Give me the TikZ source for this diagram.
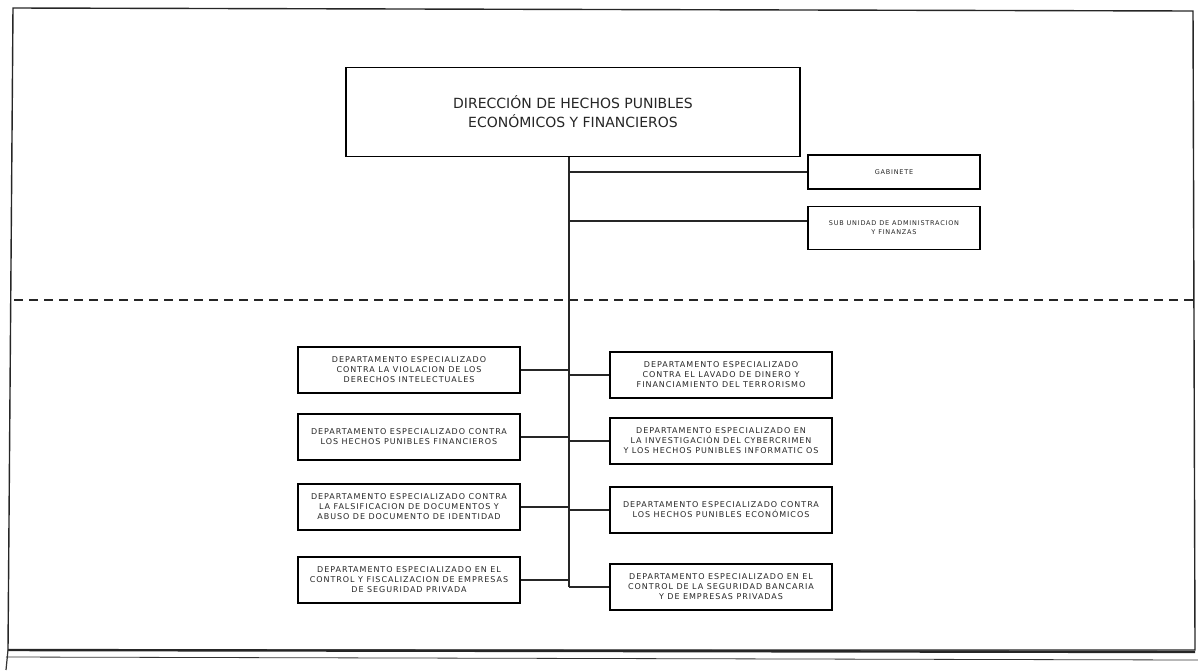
\documentclass[tikz,border=0pt]{standalone}
\usepackage{fontspec}
\setmainfont{DejaVu Sans}
\newfontfamily\deptfam[LetterSpace=12]{DejaVu Sans}
\usetikzlibrary{positioning}

\tikzset{
  dept/.style={draw, line width=1.3pt, fill=white, align=center, inner sep=2pt,
    minimum width=222pt, minimum height=46pt, text=black!85,
    font=\deptfam\fontsize{8}{10}\selectfont},
  staff/.style={dept, minimum width=172pt, minimum height=36pt,
    font=\deptfam\fontsize{6.5}{9}\selectfont},
  link/.style={line width=1.2pt, black!85},
}

\begin{document}
\begin{tikzpicture}[x=1pt,y=-1pt]
\useasboundingbox (0,0) rectangle (1198,670);

% Page frame
\draw[line width=1.4pt, black!85] (13,8) -- (1193,11) -- (1195,650) -- (8,650) -- cycle;
\draw[line width=2.4pt, black!85] (8,650) -- (1195,652);
\draw[line width=0.8pt, black!80] (6,657) -- (1198,660);
\draw[line width=1.2pt, black!80] (8,650) -- (6,670);

% Separator
\draw[line width=1.3pt, dash pattern=on 9pt off 6pt, black!85] (14,300) -- (1193,300);

% Head
\node[draw, line width=1.8pt, fill=white, minimum width=454pt, minimum height=89pt,
  align=center, text=black!85, font=\fontsize{14}{19}\selectfont]
  (head) at (573,112) {DIRECCIÓN DE HECHOS PUNIBLES\\ECONÓMICOS Y FINANCIEROS};
\coordinate (trunk) at (569,587);
\draw[link] (head.south -| trunk) -- (trunk);

% Staff units
\node[staff, minimum height=34pt] (gab) at (894,172) {GABINETE};
\node[staff, minimum height=43pt] (sub) at (894,228) {SUB UNIDAD DE ADMINISTRACION\\Y FINANZAS};
\draw[link] (gab.west) -- (gab.west -| trunk);
\draw[link] ([yshift=7pt]sub.west) -- ([yshift=7pt]sub.west -| trunk);

% Departments, left column
\foreach \n/\y/\txt in {
  la/370/{DEPARTAMENTO ESPECIALIZADO\\CONTRA LA VIOLACION DE LOS\\DERECHOS INTELECTUALES},
  lb/437/{DEPARTAMENTO  ESPECIALIZADO CONTRA\\LOS HECHOS PUNIBLES  FINANCIEROS},
  lc/507/{DEPARTAMENTO  ESPECIALIZADO CONTRA\\LA FALSIFICACION  DE DOCUMENTOS Y\\ABUSO DE DOCUMENTO DE IDENTIDAD},
  ld/580/{DEPARTAMENTO ESPECIALIZADO  EN EL\\CONTROL  Y FISCALIZACION DE EMPRESAS\\DE SEGURIDAD PRIVADA}} {
    \node[dept] (\n) at (409,\y) {\txt};
    \draw[link] (\n.east) -- (\n.east -| trunk);
}

% Departments, right column
\foreach \n/\y/\txt in {
  ra/375/{DEPARTAMENTO  ESPECIALIZADO\\CONTRA  EL LAVADO DE DINERO Y\\FINANCIAMIENTO DEL TERRORISMO},
  rb/441/{DEPARTAMENTO ESPECIALIZADO EN\\LA INVESTIGACIÓN DEL CYBERCRIMEN\\Y LOS HECHOS PUNIBLES INFORMATIC OS},
  rc/510/{DEPARTAMENTO  ESPECIALIZADO CONTRA\\LOS HECHOS PUNIBLES ECONÓMICOS},
  rd/587/{DEPARTAMENTO  ESPECIALIZADO  EN EL\\CONTROL DE LA SEGURIDAD BANCARIA\\Y DE EMPRESAS PRIVADAS}} {
    \node[dept] (\n) at (721,\y) {\txt};
    \draw[link] (\n.west) -- (\n.west -| trunk);
}

\end{tikzpicture}
\end{document}
